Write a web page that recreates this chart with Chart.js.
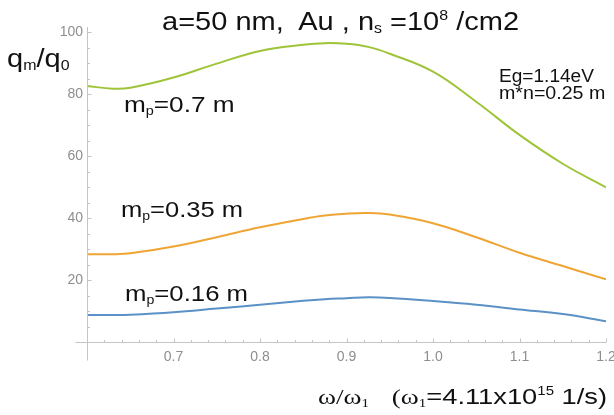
<!DOCTYPE html>
<html>
<head>
<meta charset="utf-8">
<script src="https://cdn.jsdelivr.net/npm/chart.js@4"></script>
<style>
  html, body { margin: 0; padding: 0; background: #fff; }
  #wrap { position: relative; width: 614px; height: 415px; overflow: hidden; }
  canvas { position: absolute; left: 0; top: 0; }
  .t { position: absolute; white-space: nowrap; font-family: "Liberation Sans", Arial, sans-serif; color: #111; line-height: 1; transform-origin: 0 0; }
  .t sub { font-size: 55%; vertical-align: -0.25em; line-height: 0; }
  .t sup { font-size: 55%; vertical-align: 0.75em; line-height: 0; }
  .serif { font-family: "Liberation Serif", "Times New Roman", serif; }
</style>
</head>
<body>
<div id="wrap">
  <canvas id="c" width="614" height="415"></canvas>
  <div class="t" style="left:162px; top:9px; font-size:25px; transform:scaleX(1.16);">a=50 nm,&nbsp; Au , n<sub>s</sub> =10<sup>8</sup> /cm2</div>
  <div class="t" style="left:7px; top:46px; font-size:25px; transform:scaleX(1.16);">q<sub>m</sub>/q<sub>0</sub></div>
  <div class="t" style="left:124px; top:94px; font-size:22px; transform:scaleX(1.19);">m<sub>p</sub>=0.7 m</div>
  <div class="t" style="left:121px; top:199px; font-size:22px; transform:scaleX(1.16);">m<sub>p</sub>=0.35 m</div>
  <div class="t" style="left:125px; top:283px; font-size:22px; transform:scaleX(1.17);">m<sub>p</sub>=0.16 m</div>
  <div class="t" style="left:499px; top:67px; font-size:18px; transform:scaleX(1.06);">Eg=1.14eV</div>
  <div class="t" style="left:499px; top:84px; font-size:18px; transform:scaleX(1.09);">m*n=0.25 m</div>
  <div class="t" style="left:318px; top:386px; font-size:22px; transform:scaleX(1.24);"><span class="serif">ω/ω<sub>1</sub></span>&nbsp;&nbsp; <span class="serif">(ω<sub>1</sub></span>=4.11x10<sup>15</sup> 1/s)</div>
</div>
<script>
const xValues = [0.60, 0.63, 0.65, 0.70, 0.75, 0.80, 0.85, 0.875, 0.90, 0.925, 0.95, 1.00, 1.05, 1.10, 1.15, 1.20];
const green07 = [82.6, 81.7, 82.0, 85.3, 89.8, 93.9, 95.9, 96.4, 96.2, 95.2, 93.0, 87.2, 77.5, 66.8, 57.5, 49.9];
const orange035 = [28.3, 28.3, 28.6, 30.8, 33.8, 37.0, 39.7, 40.8, 41.4, 41.6, 41.1, 38.3, 33.8, 28.8, 24.5, 20.2];
const blue016 = [8.7, 8.7, 8.8, 9.6, 10.8, 12.0, 13.3, 13.8, 14.1, 14.4, 14.2, 13.2, 12.0, 10.5, 9.0, 6.7];
const xTickLabels = ["0.7", "0.8", "0.9", "1.0", "1.1", "1.2"];
const yTickLabels = ["20", "40", "60", "80", "100"];

function pts(ys) { return xValues.map((x, i) => ({ x: x, y: ys[i] })); }

const axisLines = {
  id: 'axisLines',
  afterDraw(chart) {
    const ctx = chart.ctx;
    const xs = chart.scales.x, ys = chart.scales.y;
    const x0 = Math.round(xs.getPixelForValue(0.6)) + 0.5, x1 = xs.getPixelForValue(1.2);
    const y0 = Math.round(ys.getPixelForValue(0)) + 0.5, y1 = ys.getPixelForValue(100);
    ctx.save();
    ctx.strokeStyle = '#c4c4c4';
    ctx.lineWidth = 1;
    ctx.beginPath();
    ctx.moveTo(x0 - 12, y0);
    ctx.lineTo(x1, y0);
    ctx.moveTo(x0, y1 - 5);
    ctx.lineTo(x0, y0 + 18);
    xs.ticks.forEach(t => {
      const p = Math.round(xs.getPixelForValue(t.value)) + 0.5;
      const major = Math.abs(t.value * 10 - Math.round(t.value * 10)) < 1e-6;
      ctx.moveTo(p, y0);
      ctx.lineTo(p, y0 - (major ? 4 : 2.5));
    });
    ys.ticks.forEach(t => {
      const p = Math.round(ys.getPixelForValue(t.value)) + 0.5;
      const major = t.value % 20 === 0;
      ctx.moveTo(x0, p);
      ctx.lineTo(x0 + (major ? 4 : 2.5), p);
    });
    ctx.stroke();
    ctx.restore();
  }
};

const line = (data, color) => ({
  data: pts(data), borderColor: color, borderWidth: 2, pointRadius: 0,
  fill: false, tension: 0.4
});

new Chart(document.getElementById('c'), {
  type: 'line',
  data: { datasets: [line(green07, '#9fc43a'), line(orange035, '#eea534'), line(blue016, '#5b91c6')] },
  options: {
    responsive: false, animation: false,
    layout: { padding: { left: 0, right: 8, top: 32, bottom: 0 } },
    plugins: { legend: { display: false }, tooltip: { enabled: false } },
    scales: {
      x: {
        type: 'linear', min: 0.6, max: 1.2,
        afterFit(s) { s.height = 73; s.paddingRight = 0; s.paddingLeft = 0; },
        afterBuildTicks(s) {
          const t = [];
          for (let i = 0; i <= 30; i++) t.push({ value: +(0.6 + i * 0.02).toFixed(2) });
          s.ticks = t;
        },
        border: { display: false },
        grid: { display: false, drawOnChartArea: false, drawTicks: false },
        ticks: {
          autoSkip: false, maxRotation: 0, padding: 7, color: '#8e8e8e',
          font: { family: 'Liberation Sans, Arial, sans-serif', size: 14 },
          callback(v) {
            const s = (+v).toFixed(1);
            return (Math.abs(v * 10 - Math.round(v * 10)) < 1e-6 && xTickLabels.includes(s)) ? s : '';
          }
        }
      },
      y: {
        type: 'linear', min: 0, max: 100,
        afterFit(s) { s.width = 87; s.paddingTop = 0; s.paddingBottom = 0; },
        afterBuildTicks(s) {
          const t = [];
          for (let i = 0; i <= 20; i++) t.push({ value: i * 5 });
          s.ticks = t;
        },
        border: { display: false },
        grid: { display: false, drawOnChartArea: false, drawTicks: false },
        ticks: {
          autoSkip: false, padding: 4, color: '#8e8e8e',
          font: { family: 'Liberation Sans, Arial, sans-serif', size: 14 },
          callback(v) { const s = String(v); return yTickLabels.includes(s) ? s : ''; }
        }
      }
    }
  },
  plugins: [axisLines]
});
</script>
</body>
</html>
